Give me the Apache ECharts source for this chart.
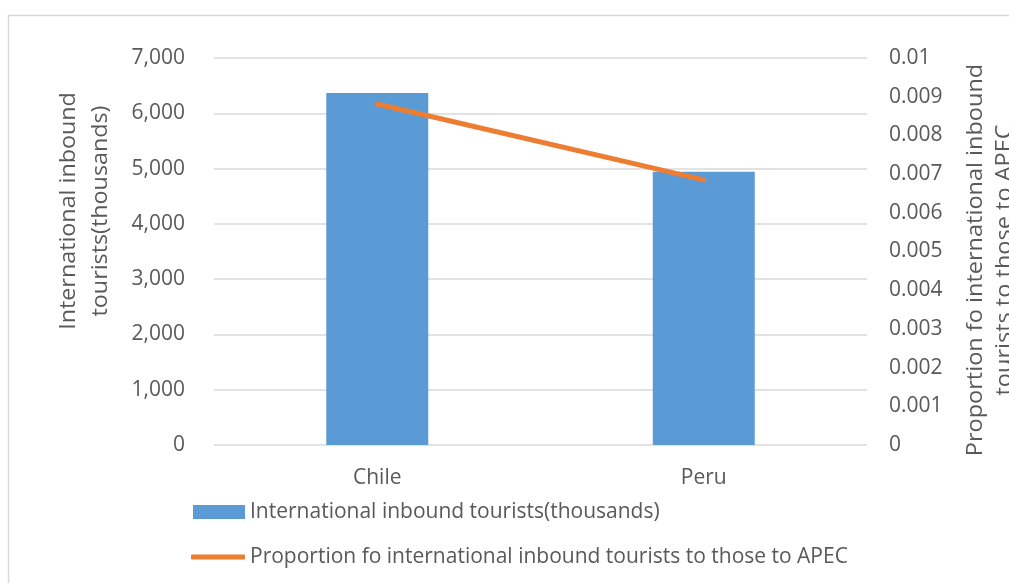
<!DOCTYPE html>
<html>
<head>
<meta charset="utf-8">
<script src="https://cdn.jsdelivr.net/npm/echarts@6/dist/echarts.min.js"></script>
<style>
  html, body { margin: 0; padding: 0; background: #ffffff; }
  #chart { width: 1009px; height: 583px; }
</style>
</head>
<body>
<div id="chart"></div>
<script>
// Inbound tourism: Chile vs Peru
const categories = ['Chile', 'Peru'];
const touristsThousands = [6366, 4943];
const shareOfApec = [0.00881, 0.00685];

const leftTicks = { min: 0, max: 7000, interval: 1000 };
const rightTicks = { min: 0, max: 0.01, interval: 0.001 };

const barName = 'International inbound tourists(thousands)';
const lineName = 'Proportion fo international inbound tourists to those to APEC';
const leftTitle = 'International inbound\ntourists(thousands)';
const rightTitle = 'Proportion fo international inbound\ntourists to those to APEC';

const FONT = '"Open Sans", "DejaVu Sans", sans-serif';
const TEXT_COLOR = '#595959';
const FONT_SIZE = 21;

const chart = echarts.init(document.getElementById('chart'), null, { renderer: 'canvas' });

chart.setOption({
  backgroundColor: '#ffffff',
  animation: false,
  textStyle: { fontFamily: FONT, color: TEXT_COLOR },
  grid: { left: 214, right: 142, top: 58, bottom: 138, containLabel: false },
  xAxis: {
    type: 'category',
    data: categories,
    boundaryGap: true,
    axisLine: { show: false },
    axisTick: { show: false },
    axisLabel: { color: TEXT_COLOR, fontSize: FONT_SIZE, fontFamily: FONT, margin: 23 }
  },
  yAxis: [
    {
      type: 'value',
      min: leftTicks.min, max: leftTicks.max, interval: leftTicks.interval,
      axisLine: { show: false },
      axisTick: { show: false },
      splitLine: { show: true, lineStyle: { color: '#d9d9d9', width: 1.5 } },
      axisLabel: {
        color: TEXT_COLOR, fontSize: FONT_SIZE, fontFamily: FONT, margin: 29,
        formatter: v => v.toLocaleString('en-US')
      }
    },
    {
      type: 'value',
      position: 'right',
      min: rightTicks.min, max: rightTicks.max, interval: rightTicks.interval,
      axisLine: { show: false },
      axisTick: { show: false },
      splitLine: { show: false },
      axisLabel: {
        color: TEXT_COLOR, fontSize: FONT_SIZE, fontFamily: FONT, margin: 22,
        formatter: v => String(parseFloat(v.toFixed(3)))
      }
    }
  ],
  legend: [
    {
      data: [{ name: barName, icon: 'rect' }],
      left: 193, top: 500, padding: 0,
      itemWidth: 52, itemHeight: 14,
      selectedMode: false,
      textStyle: { color: TEXT_COLOR, fontSize: FONT_SIZE, fontFamily: FONT, lineHeight: 24 }
    },
    {
      data: [{ name: lineName, icon: 'roundRect' }],
      left: 191, top: 545, padding: 0,
      itemWidth: 54, itemHeight: 5,
      selectedMode: false,
      textStyle: { color: TEXT_COLOR, fontSize: FONT_SIZE, fontFamily: FONT, lineHeight: 24 }
    }
  ],
  series: [
    {
      name: barName,
      type: 'bar',
      yAxisIndex: 0,
      data: touristsThousands,
      barWidth: 102,
      itemStyle: { color: '#5b9bd5' }
    },
    {
      name: lineName,
      type: 'line',
      yAxisIndex: 1,
      data: shareOfApec,
      showSymbol: false,
      symbol: 'none',
      lineStyle: { color: '#ed7d31', width: 5, cap: 'round', join: 'round' },
      itemStyle: { color: '#ed7d31' }
    }
  ],
  graphic: [
    {
      type: 'rect',
      silent: true,
      shape: { x: 8.5, y: 15.5, width: 1200, height: 700 },
      style: { fill: 'none', stroke: '#d9d9d9', lineWidth: 1.5 },
      z: -1
    },
    {
      type: 'text',
      silent: true,
      x: 85, y: 211,
      rotation: Math.PI / 2,
      scaleX: 1.11,
      style: {
        text: leftTitle,
        fill: TEXT_COLOR,
        font: FONT_SIZE + 'px ' + FONT,
        lineHeight: 32,
        textAlign: 'center',
        textVerticalAlign: 'middle'
      }
    },
    {
      type: 'text',
      silent: true,
      x: 991, y: 260,
      rotation: Math.PI / 2,
      scaleX: 1.12,
      style: {
        text: rightTitle,
        fill: TEXT_COLOR,
        font: FONT_SIZE + 'px ' + FONT,
        lineHeight: 29,
        textAlign: 'center',
        textVerticalAlign: 'middle'
      }
    }
  ]
});
</script>
</body>
</html>
